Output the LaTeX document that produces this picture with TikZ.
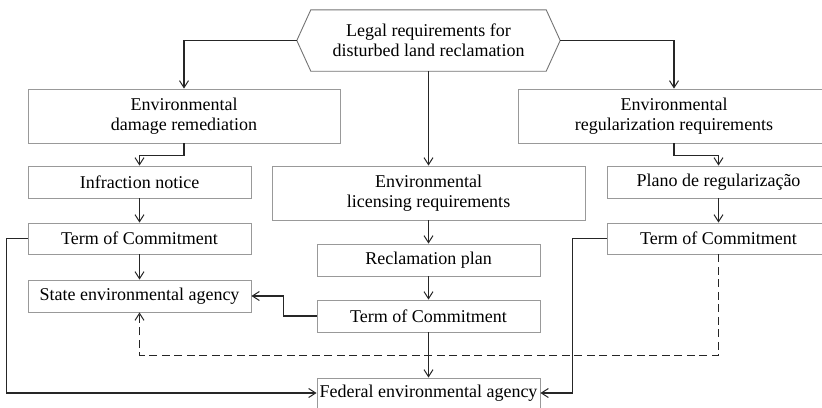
\documentclass[tikz,border=0pt]{standalone}
\usepackage{fontspec}
\setmainfont{Liberation Serif}
\usetikzlibrary{arrows.meta}
\begin{document}
\begin{tikzpicture}[x=1pt,y=-1pt,
  box/.style={draw=black!40,line width=0.9pt,rectangle,inner sep=0pt,align=center,
    font=\fontsize{18}{20}\selectfont},
  wide/.style={box,minimum width=312pt,minimum height=54pt},
  narrow/.style={box,minimum width=223pt,minimum height=32pt},
  conn/.style={draw=black!85,line width=1.2pt},
  arr/.style={conn,-{Straight Barb[length=7pt,width=9pt,line width=1pt]}},
  dashconn/.style={arr,dash pattern=on 8pt off 4.5pt}]
\useasboundingbox (0,0) rectangle (822,407);
% hexagon
\node[align=center,font=\fontsize{18}{20}\selectfont,minimum width=263pt,minimum height=61pt,inner sep=0pt] (hex) at (428.5,40.5) {Legal requirements for\\disturbed land reclamation};
\draw[draw=black!55,line width=0.9pt] (hex.west) -- ([xshift=14pt]hex.north west) -- ([xshift=-14pt]hex.north east) -- (hex.east) -- ([xshift=-14pt]hex.south east) -- ([xshift=14pt]hex.south west) -- cycle;
% boxes
\node[wide] (dmg) at (184,116) {Environmental\\damage remediation};
\node[wide] (reg) at (674,116) {Environmental\\regularization requirements};
\node[wide,minimum width=313pt] (lic) at (428.5,193) {Environmental\\licensing requirements};
\node[narrow] (inf) at (139.5,182) {Infraction notice};
\node[narrow] (plano) at (718.5,182) {Plano de regularização};
\node[narrow,minimum height=31pt] (termL) at (139.5,238.5) {Term of Commitment};
\node[narrow,minimum height=31pt] (termR) at (718.5,238.5) {Term of Commitment};
\node[narrow] (state) at (139.5,296) {State environmental agency};
\node[narrow] (recl) at (428.5,260) {Reclamation plan};
\node[narrow] (termM) at (428.5,316) {Term of Commitment};
\node[narrow,minimum height=30pt] (fed) at (428.5,393) {Federal environmental agency};
% connectors
\draw[arr] (hex.west) -| (dmg.north);
\draw[arr] (hex.east) -| (reg.north);
\draw[arr] (hex.south) -- (lic.north);
\draw[arr] (dmg.south) -- ++(0,12) -| (inf.north);
\draw[arr] (reg.south) -- ++(0,12) -| (plano.north);
\draw[arr] (inf.south) -- (termL.north);
\draw[arr] (termL.south) -- (state.north);
\draw[arr] (plano.south) -- (termR.north);
\draw[arr] (lic.south) -- (recl.north);
\draw[arr] (recl.south) -- (termM.north);
\draw[arr] (termM.south) -- (fed.north);
\draw[arr] (termM.west) -- ++(-33,0) |- (state.east);
\draw[arr] (termL.west) -- ++(-21,0) |- (fed.west);
\draw[arr] (termR.west) -- ++(-34,0) |- (fed.east);
\draw[dashconn] (termR.south) -- ++(0,101) -| (state.south);
\end{tikzpicture}
\end{document}
